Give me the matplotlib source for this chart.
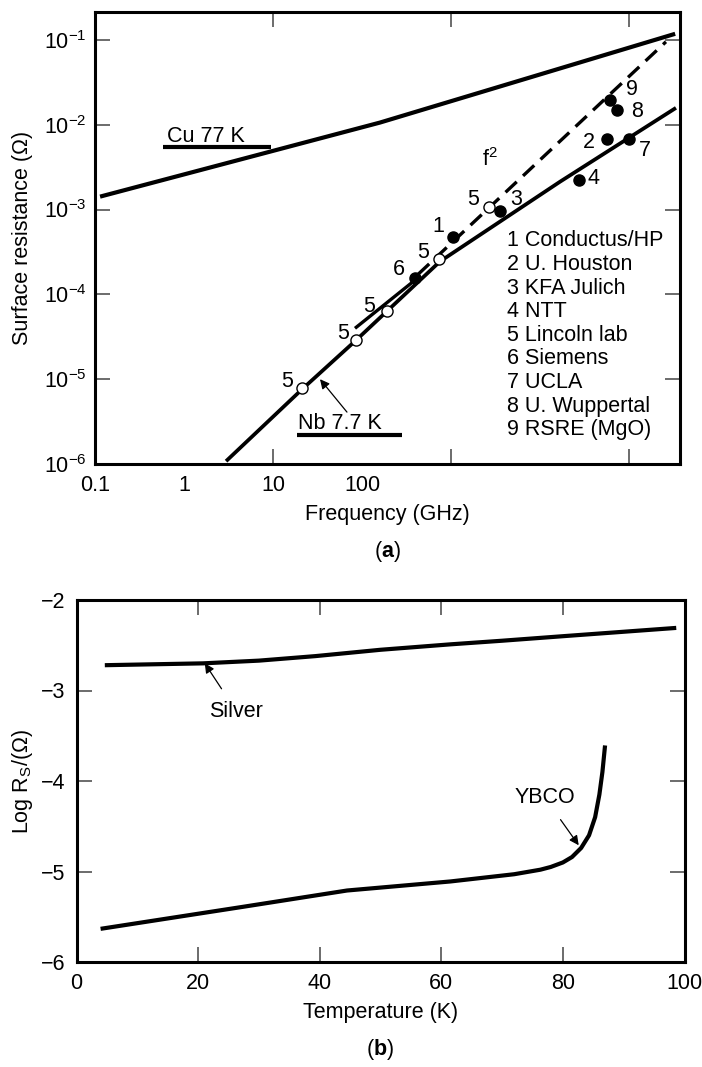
import matplotlib
matplotlib.use("Agg")
import matplotlib.pyplot as plt

plt.rcParams["font.family"] = ["Liberation Sans", "DejaVu Sans"]
plt.rcParams["mathtext.fontset"] = "custom"
plt.rcParams["mathtext.rm"] = "Liberation Sans"
plt.rcParams["mathtext.it"] = "Liberation Sans:italic"
plt.rcParams["mathtext.bf"] = "Liberation Sans:bold"
plt.rcParams["font.size"] = 15.5

# ---- panel (a): surface resistance vs frequency ----
cu_freq = [0.114, 159, 3.3e5]
cu_rs = [1.42e-3, 1.06e-2, 0.118]

nb_freq = [2.97, 21.2, 85.7, 751, 16800, 3.37e5]
nb_rs = [1.08e-6, 7.6e-6, 2.88e-5, 2.44e-4, 2.13e-3, 1.58e-2]

f2_solid_freq = [83.4, 365]
f2_solid_rs = [3.98e-5, 1.38e-4]
f2_dash_freq = [426, 2.6e5]
f2_dash_rs = [1.72e-4, 9.5e-2]

open_freq = [21.2, 85.7, 191, 733, 2670]
open_rs = [7.8e-6, 2.88e-5, 6.3e-5, 2.58e-4, 1.08e-3]
open_labels = ["5", "5", "5", "5", "5"]
open_offsets = [(-11, 5), (-9.5, 4.5), (-13, 3.6), (-11.5, 5), (-11.5, 5)]

filled_freq = [1050, 56600, 3560, 27400, 394, 1.0e5, 73300, 61200]
filled_rs = [4.69e-4, 6.8e-3, 9.5e-4, 2.25e-3, 1.58e-4, 6.8e-3, 1.5e-2, 1.97e-2]
filled_labels = ["1", "2", "3", "4", "6", "7", "8", "9"]
filled_offsets = [(-10.8, 7.9), (-13, -2.9), (11.5, 8.6), (10.8, 0.7),
                  (-11.5, 5.8), (11.5, -8.6), (14.4, -1.4), (15.8, 7.2)]

groups = ["1 Conductus/HP", "2 U. Houston", "3 KFA Julich", "4 NTT",
          "5 Lincoln lab", "6 Siemens", "7 UCLA", "8 U. Wuppertal",
          "9 RSRE (MgO)"]

# ---- panel (b): log Rs vs temperature ----
silver_t = [5.0, 20.8, 30.0, 39.3, 50.0, 61.5, 70.0, 80.0, 98.3]
silver_log = [-2.72, -2.70, -2.67, -2.62, -2.55, -2.49, -2.45, -2.40, -2.31]

ybco_t = [4.3, 27.4, 44.5, 61.5, 72.0, 76.3, 78.0, 80.0, 81.5, 83.0, 84.3,
          85.3, 86.0, 86.5, 86.9]
ybco_log = [-5.63, -5.39, -5.21, -5.11, -5.03, -4.98, -4.95, -4.90, -4.84,
            -4.74, -4.60, -4.40, -4.15, -3.90, -3.63]

fig = plt.figure(figsize=(7.02, 10.67), dpi=100)

ax = fig.add_axes([95 / 702, 1 - 464 / 1067, 585 / 702, 452 / 1067])
ax.set_xscale("log")
ax.set_yscale("log")
ax.set_xlim(0.1, 10 ** 5.573)
ax.set_ylim(1e-6, 10 ** -0.671)

ax.plot(cu_freq, cu_rs, color="black", lw=3.0, solid_capstyle="butt")
ax.plot(nb_freq, nb_rs, color="black", lw=2.7, solid_capstyle="butt")
ax.plot(f2_solid_freq, f2_solid_rs, color="black", lw=2.4, solid_capstyle="butt")
ax.plot(f2_dash_freq, f2_dash_rs, color="black", lw=2.4, linestyle=(0, (4.6, 2.6)))

ax.plot(open_freq, open_rs, "o", ms=8, mfc="white", mec="black", mew=1.0, zorder=5)
ax.plot(filled_freq, filled_rs, "o", ms=8, mfc="black", mec="black", zorder=5)

for f, r, lab, off in zip(open_freq, open_rs, open_labels, open_offsets):
    ax.annotate(lab, (f, r), xytext=off, textcoords="offset points",
                ha="center", va="center")
for f, r, lab, off in zip(filled_freq, filled_rs, filled_labels, filled_offsets):
    ax.annotate(lab, (f, r), xytext=off, textcoords="offset points",
                ha="center", va="center")

ax.text(10 ** 3.44, 10 ** -2.41, r"f$^2$", ha="center", va="center")

# line labels with underline
ax.text(10 ** -0.19, 10 ** -2.2, "Cu 77 K", ha="left", va="baseline")
ax.plot([10 ** -0.236, 10 ** 0.978], [10 ** -2.259] * 2, color="black", lw=3,
        solid_capstyle="butt")
ax.text(10 ** 1.28, 10 ** -5.588, "Nb 7.7 K", ha="left", va="baseline")
ax.plot([10 ** 1.27, 10 ** 2.449], [10 ** -5.659] * 2, color="black", lw=3,
        solid_capstyle="butt")
ax.annotate("", xy=(10 ** 1.528, 1e-5), xytext=(10 ** 1.831, 10 ** -5.388),
            arrowprops=dict(arrowstyle="-|>", color="black", lw=0.9,
                            mutation_scale=14, shrinkA=0, shrinkB=0))

for i, g in enumerate(groups):
    ax.text(0.704, (464 - (241 + i * 23.6)) / 452, g, transform=ax.transAxes,
            ha="left", va="center")

ax.set_yticks([1e-6, 1e-5, 1e-4, 1e-3, 1e-2, 1e-1])
ax.yaxis.set_minor_locator(matplotlib.ticker.NullLocator())
ax.set_xticks([10, 1e3, 1e5], ["10", "", ""])
ax.set_xticks([0.1, 1, 100], ["0.1", "1", "100"], minor=True)
ax.tick_params(axis="both", which="major", direction="in", length=11, width=1.1,
               top=True, right=True, color="#444444")
ax.tick_params(axis="x", which="major", pad=8)
ax.tick_params(axis="x", which="minor", length=0, pad=8)
ax.tick_params(axis="y", which="major", pad=6)
for s in ax.spines.values():
    s.set_linewidth(2.2)

ax.set_xlabel("Frequency (GHz)", labelpad=6)
ax.set_ylabel("Surface resistance (\u03a9)", labelpad=8)
fig.text(387 / 702, 1 - 551 / 1067, r"($\mathbf{a}$)", ha="center", va="center")

# ---- panel (b) ----
bx = fig.add_axes([76.5 / 702, 1 - 962 / 1067, 608 / 702, 362 / 1067])
bx.plot(silver_t, silver_log, color="black", lw=3.0)
bx.plot(ybco_t, ybco_log, color="black", lw=3.0)
bx.set_xlim(0, 100)
bx.set_ylim(-6, -2)
bx.set_xticks([0, 20, 40, 60, 80, 100])
bx.set_yticks([-6, -5, -4, -3, -2])
bx.tick_params(axis="both", direction="in", length=11, width=1.1, top=True,
               right=True, color="#444444", pad=8)
for s in bx.spines.values():
    s.set_linewidth(2.2)

bx.annotate("Silver", xy=(21.1, -2.70), xytext=(26.3, -3.23), ha="center",
            va="center",
            arrowprops=dict(arrowstyle="-|>", color="black", lw=0.9,
                            mutation_scale=14, shrinkA=8, shrinkB=0))
bx.annotate("YBCO", xy=(82.6, -4.71), xytext=(77.0, -4.18), ha="center",
            va="center",
            arrowprops=dict(arrowstyle="-|>", color="black", lw=0.9,
                            mutation_scale=14, shrinkA=8, shrinkB=0))

bx.set_xlabel("Temperature (K)", labelpad=6)
bx.set_ylabel(r"Log R$_\mathrm{S}$/($\Omega$)", labelpad=4)
fig.text(380 / 702, 1 - 1050 / 1067, r"($\mathbf{b}$)", ha="center", va="center")

fig.savefig("out.png", dpi=100)
